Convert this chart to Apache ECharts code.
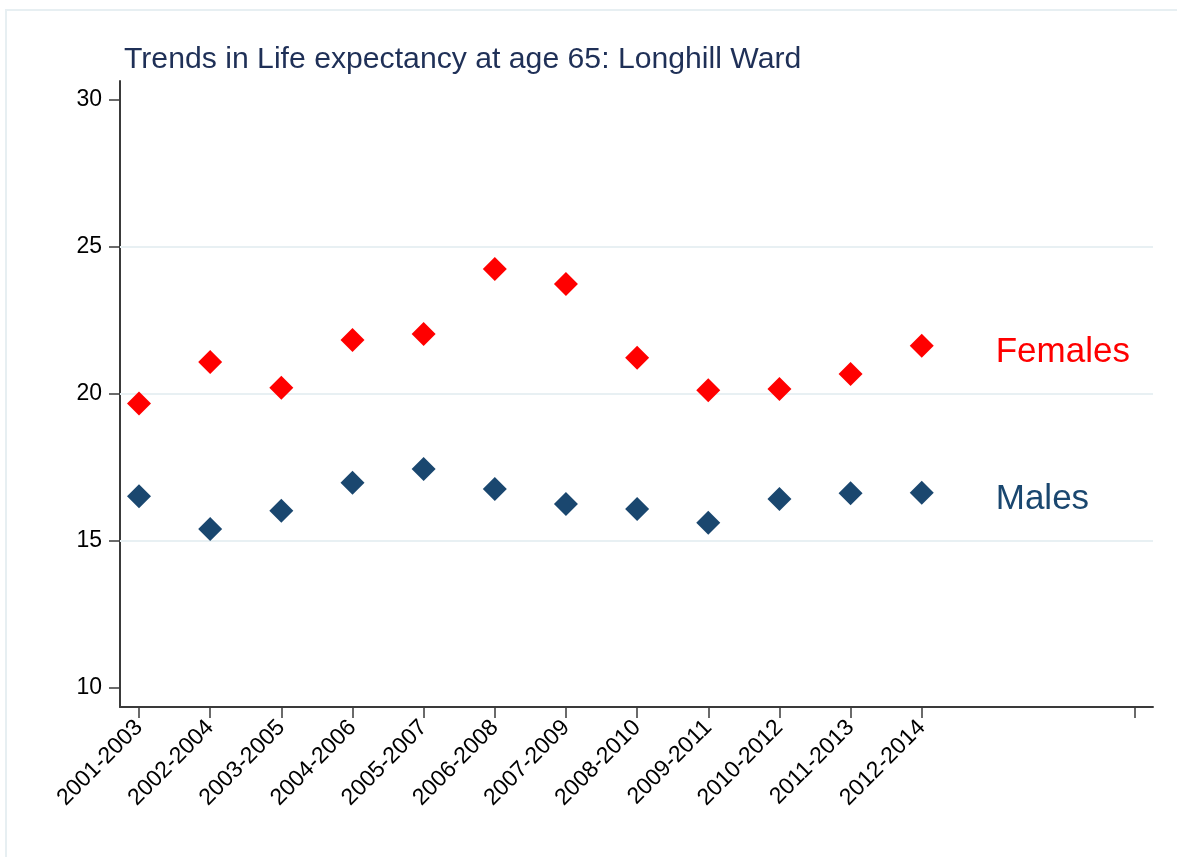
<!DOCTYPE html>
<html>
<head>
<meta charset="utf-8">
<script src="https://cdn.jsdelivr.net/npm/echarts@6/dist/echarts.min.js"></script>
<style>
  html, body { margin: 0; padding: 0; background: #fff; }
  #chart { width: 1177px; height: 857px; }
</style>
</head>
<body>
<div id="chart"></div>
<script>
const periods = [
  "2001-2003", "2002-2004", "2003-2005", "2004-2006", "2005-2007", "2006-2008",
  "2007-2009", "2008-2010", "2009-2011", "2010-2012", "2011-2013", "2012-2014",
];
const females = [19.68, 21.09, 20.21, 21.84, 22.04, 24.25, 23.74, 21.23, 20.13, 20.17, 20.68, 21.64];
const males = [16.52, 15.41, 16.03, 16.98, 17.45, 16.77, 16.26, 16.09, 15.62, 16.43, 16.62, 16.64];
const yTicks = [10, 15, 20, 25, 30];
const gridValues = [15, 20, 25];
// stata leaves an empty slot on the right, with one extra tick at 14
const xTicks = [0, 1, 2, 3, 4, 5, 6, 7, 8, 9, 10, 11, 14];

const RED = "#ff0000";
const NAVY = "#1a476f";
const FONT = "Liberation Sans, Arial, sans-serif";

const toPoints = (values, name) =>
  values.map((v, i) => {
    const item = { value: [i, v] };
    if (i === values.length - 1) {
      // group name sits to the right of the last marker
      item.label = { show: true, formatter: name };
    }
    return item;
  });

const chart = echarts.init(document.getElementById("chart"));
const labelStyle = (color) => ({
  show: false,
  position: "right",
  distance: 62,
  offset: [0, 7],
  color: color,
  fontSize: 35,
  fontFamily: FONT,
});

const option = {
  backgroundColor: "#ffffff",
  animation: false,
  graphic: [
    {
      type: "rect",
      shape: { x: 6, y: 10, width: 1200, height: 900 },
      style: { fill: "none", stroke: "#e7eff2", lineWidth: 2 },
      silent: true,
    },
  ],
  title: {
    text: "Trends in Life expectancy at age 65: Longhill Ward",
    left: 124,
    top: 45,
    padding: 0,
    textStyle: {
      color: "#1f3057",
      fontSize: 30.2,
      fontWeight: "normal",
      fontFamily: FONT,
    },
  },
  grid: { left: 120, right: 24, top: 81, bottom: 150, containLabel: false },
  xAxis: {
    type: "value",
    min: -0.267,
    max: 14.25,
    splitLine: { show: false },
    axisLine: { show: true, onZero: false, lineStyle: { color: "#3a3a3a", width: 2 } },
    axisTick: {
      show: true,
      length: 11,
      customValues: xTicks,
      lineStyle: { color: "#3a3a3a", width: 1.5 },
    },
    axisLabel: {
      customValues: xTicks.slice(0, periods.length),
      formatter: (v) => periods[Math.round(v)] || "",
      rotate: 45,
      margin: 17,
      color: "#000",
      fontSize: 23,
      fontFamily: FONT,
    },
  },
  yAxis: {
    type: "value",
    min: 9.354,
    max: 30.646,
    splitLine: { show: false },
    axisLine: { show: true, onZero: false, lineStyle: { color: "#3a3a3a", width: 2 } },
    axisTick: {
      show: true,
      length: 11,
      customValues: yTicks,
      lineStyle: { color: "#3a3a3a", width: 1.5 },
    },
    axisLabel: {
      customValues: yTicks,
      margin: 18,
      color: "#000",
      fontSize: 23,
      fontFamily: FONT,
    },
  },
  series: [
    {
      name: "Females",
      type: "scatter",
      symbol: "diamond",
      symbolSize: 24,
      itemStyle: { color: RED, opacity: 1 },
      label: labelStyle(RED),
      data: toPoints(females, "Females"),
      z: 3,
    },
    {
      name: "Males",
      type: "scatter",
      symbol: "diamond",
      symbolSize: 24,
      itemStyle: { color: NAVY, opacity: 1 },
      label: labelStyle(NAVY),
      data: toPoints(males, "Males"),
      z: 3,
      markLine: {
        silent: true,
        symbol: "none",
        label: { show: false },
        lineStyle: { color: "#e8f0f3", width: 2, type: "solid" },
        data: gridValues.map((v) => ({ yAxis: v })),
        z: 1,
      },
    },
  ],
};
option && chart.setOption(option);
</script>
</body>
</html>
